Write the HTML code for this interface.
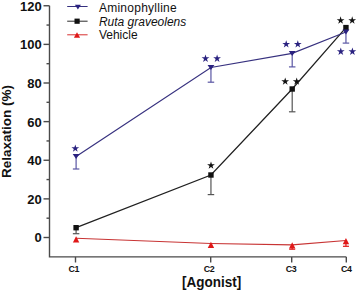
<!DOCTYPE html>
<html><head><meta charset="utf-8"><style>
html,body{margin:0;padding:0;background:#fff;}
body{width:358px;height:290px;overflow:hidden;}
svg{display:block;}
text{font-family:"Liberation Sans",sans-serif;}
.yl{font-size:13px;font-weight:bold;fill:#111;}
.xl{font-size:8.9px;letter-spacing:-0.4px;font-weight:bold;fill:#111;}
.t{font-size:13.5px;font-weight:bold;fill:#111;}
.lg{font-size:12px;fill:#111;}
</style></head><body>
<svg width="358" height="290" viewBox="0 0 358 290">
<path d="M49.5,5.7 V256.9 H346.4" fill="none" stroke="#4a4a4a" stroke-width="1.4"/>
<line x1="43.5" y1="237.50" x2="49.5" y2="237.50" stroke="#4a4a4a" stroke-width="1.4"/>
<text x="41.8" y="242.40" text-anchor="end" class="yl">0</text>
<line x1="43.5" y1="198.88" x2="49.5" y2="198.88" stroke="#4a4a4a" stroke-width="1.4"/>
<text x="41.8" y="203.78" text-anchor="end" class="yl">20</text>
<line x1="43.5" y1="160.25" x2="49.5" y2="160.25" stroke="#4a4a4a" stroke-width="1.4"/>
<text x="41.8" y="165.15" text-anchor="end" class="yl">40</text>
<line x1="43.5" y1="121.62" x2="49.5" y2="121.62" stroke="#4a4a4a" stroke-width="1.4"/>
<text x="41.8" y="126.53" text-anchor="end" class="yl">60</text>
<line x1="43.5" y1="83.00" x2="49.5" y2="83.00" stroke="#4a4a4a" stroke-width="1.4"/>
<text x="41.8" y="87.90" text-anchor="end" class="yl">80</text>
<line x1="43.5" y1="44.38" x2="49.5" y2="44.38" stroke="#4a4a4a" stroke-width="1.4"/>
<text x="41.8" y="49.27" text-anchor="end" class="yl">100</text>
<line x1="43.5" y1="5.75" x2="49.5" y2="5.75" stroke="#4a4a4a" stroke-width="1.4"/>
<text x="41.8" y="10.65" text-anchor="end" class="yl">120</text>
<line x1="46.5" y1="218.19" x2="49.5" y2="218.19" stroke="#4a4a4a" stroke-width="1.4"/>
<line x1="46.5" y1="179.56" x2="49.5" y2="179.56" stroke="#4a4a4a" stroke-width="1.4"/>
<line x1="46.5" y1="140.94" x2="49.5" y2="140.94" stroke="#4a4a4a" stroke-width="1.4"/>
<line x1="46.5" y1="102.31" x2="49.5" y2="102.31" stroke="#4a4a4a" stroke-width="1.4"/>
<line x1="46.5" y1="63.69" x2="49.5" y2="63.69" stroke="#4a4a4a" stroke-width="1.4"/>
<line x1="46.5" y1="25.06" x2="49.5" y2="25.06" stroke="#4a4a4a" stroke-width="1.4"/>
<line x1="75.5" y1="256.9" x2="75.5" y2="262.5" stroke="#4a4a4a" stroke-width="1.4"/>
<text x="73.7" y="272.4" text-anchor="middle" class="xl">C1</text>
<line x1="210.7" y1="256.9" x2="210.7" y2="262.5" stroke="#4a4a4a" stroke-width="1.4"/>
<text x="209.0" y="272.4" text-anchor="middle" class="xl">C2</text>
<line x1="291.7" y1="256.9" x2="291.7" y2="262.5" stroke="#4a4a4a" stroke-width="1.4"/>
<text x="291.0" y="272.4" text-anchor="middle" class="xl">C3</text>
<line x1="346.3" y1="256.9" x2="346.3" y2="262.5" stroke="#4a4a4a" stroke-width="1.4"/>
<text x="346.3" y="272.4" text-anchor="middle" class="xl">C4</text>
<text transform="translate(211.7,287.0) scale(1,1.09)" text-anchor="middle" class="t">[Agonist]</text>
<text transform="translate(10.9,131.6) rotate(-90)" text-anchor="middle" class="t">Relaxation (%)</text>
<line x1="292.2" y1="244.9" x2="292.2" y2="249.2" stroke="#e01818" stroke-width="1.2"/><line x1="289.2" y1="249.2" x2="295.2" y2="249.2" stroke="#e01818" stroke-width="1.2"/>
<line x1="345.95" y1="240.5" x2="345.95" y2="246.3" stroke="#e01818" stroke-width="1.2"/><line x1="342.95" y1="246.3" x2="348.95" y2="246.3" stroke="#e01818" stroke-width="1.2"/>
<line x1="76.1" y1="227.7" x2="76.1" y2="233.7" stroke="#555" stroke-width="1.2"/><line x1="72.85" y1="233.7" x2="79.35" y2="233.7" stroke="#555" stroke-width="1.2"/>
<line x1="210.95" y1="175.0" x2="210.95" y2="194.6" stroke="#555" stroke-width="1.2"/><line x1="207.7" y1="194.6" x2="214.2" y2="194.6" stroke="#555" stroke-width="1.2"/>
<line x1="292.2" y1="89.0" x2="292.2" y2="111.8" stroke="#555" stroke-width="1.2"/><line x1="288.95" y1="111.8" x2="295.45" y2="111.8" stroke="#555" stroke-width="1.2"/>
<line x1="76.1" y1="156.6" x2="76.1" y2="169.0" stroke="#5a56a4" stroke-width="1.2"/><line x1="72.85" y1="169.0" x2="79.35" y2="169.0" stroke="#5a56a4" stroke-width="1.2"/>
<line x1="210.95" y1="67.5" x2="210.95" y2="82.2" stroke="#5a56a4" stroke-width="1.2"/><line x1="207.7" y1="82.2" x2="214.2" y2="82.2" stroke="#5a56a4" stroke-width="1.2"/>
<line x1="292.2" y1="53.4" x2="292.2" y2="66.9" stroke="#5a56a4" stroke-width="1.2"/><line x1="288.95" y1="66.9" x2="295.45" y2="66.9" stroke="#5a56a4" stroke-width="1.2"/>
<line x1="345.95" y1="32.0" x2="345.95" y2="43.1" stroke="#5a56a4" stroke-width="1.2"/><line x1="342.7" y1="43.1" x2="349.2" y2="43.1" stroke="#5a56a4" stroke-width="1.2"/>
<polyline points="76.1,238.2 210.95,243.5 292.2,244.9 345.95,240.5" fill="none" stroke="#c83434" stroke-width="1.1"/>
<polyline points="76.1,227.7 210.95,175.0 292.2,89.0 345.95,27.6" fill="none" stroke="#202020" stroke-width="1.25"/>
<polyline points="76.1,156.6 210.95,67.5 292.2,53.4 345.95,32.0" fill="none" stroke="#37317f" stroke-width="1.2"/>
<polygon points="72.90,242.55 79.30,242.55 76.10,236.25" fill="#e01818"/>
<polygon points="207.75,247.95 214.15,247.95 210.95,241.65" fill="#e01818"/>
<polygon points="289.00,248.45 295.40,248.45 292.20,242.15" fill="#e01818"/>
<polygon points="342.75,244.35 349.15,244.35 345.95,238.05" fill="#e01818"/>
<rect x="73.40" y="225.00" width="5.4" height="5.4" fill="#111"/>
<rect x="208.25" y="172.30" width="5.4" height="5.4" fill="#111"/>
<rect x="289.50" y="86.30" width="5.4" height="5.4" fill="#111"/>
<rect x="343.25" y="24.90" width="5.4" height="5.4" fill="#111"/>
<polygon points="72.70,154.10 79.50,154.10 76.10,159.10" fill="#2a2280"/>
<polygon points="207.55,64.90 214.35,64.90 210.95,69.90" fill="#2a2280"/>
<polygon points="288.80,50.90 295.60,50.90 292.20,55.90" fill="#2a2280"/>
<polygon points="342.55,29.40 349.35,29.40 345.95,34.40" fill="#2a2280"/>
<polygon points="75.30,144.43 76.21,147.24 79.17,147.24 76.78,148.98 77.69,151.79 75.30,150.05 72.91,151.79 73.82,148.98 71.43,147.24 74.39,147.24" fill="#2a2280"/>
<polygon points="205.50,54.53 206.41,57.34 209.37,57.34 206.98,59.08 207.89,61.89 205.50,60.15 203.11,61.89 204.02,59.08 201.63,57.34 204.59,57.34" fill="#2a2280"/>
<polygon points="217.10,54.53 218.01,57.34 220.97,57.34 218.58,59.08 219.49,61.89 217.10,60.15 214.71,61.89 215.62,59.08 213.23,57.34 216.19,57.34" fill="#2a2280"/>
<polygon points="286.20,40.23 287.11,43.04 290.07,43.04 287.68,44.78 288.59,47.59 286.20,45.85 283.81,47.59 284.72,44.78 282.33,43.04 285.29,43.04" fill="#2a2280"/>
<polygon points="297.80,40.23 298.71,43.04 301.67,43.04 299.28,44.78 300.19,47.59 297.80,45.85 295.41,47.59 296.32,44.78 293.93,43.04 296.89,43.04" fill="#2a2280"/>
<polygon points="340.80,47.53 341.71,50.34 344.67,50.34 342.28,52.08 343.19,54.89 340.80,53.15 338.41,54.89 339.32,52.08 336.93,50.34 339.89,50.34" fill="#2a2280"/>
<polygon points="352.40,47.53 353.31,50.34 356.27,50.34 353.88,52.08 354.79,54.89 352.40,53.15 350.01,54.89 350.92,52.08 348.53,50.34 351.49,50.34" fill="#2a2280"/>
<polygon points="211.00,161.43 211.91,164.24 214.87,164.24 212.48,165.98 213.39,168.79 211.00,167.05 208.61,168.79 209.52,165.98 207.13,164.24 210.09,164.24" fill="#111"/>
<polygon points="285.20,77.43 286.11,80.24 289.07,80.24 286.68,81.98 287.59,84.79 285.20,83.05 282.81,84.79 283.72,81.98 281.33,80.24 284.29,80.24" fill="#111"/>
<polygon points="296.70,77.43 297.61,80.24 300.57,80.24 298.18,81.98 299.09,84.79 296.70,83.05 294.31,84.79 295.22,81.98 292.83,80.24 295.79,80.24" fill="#111"/>
<polygon points="340.60,16.33 341.51,19.14 344.47,19.14 342.08,20.88 342.99,23.69 340.60,21.95 338.21,23.69 339.12,20.88 336.73,19.14 339.69,19.14" fill="#111"/>
<polygon points="352.20,16.33 353.11,19.14 356.07,19.14 353.68,20.88 354.59,23.69 352.20,21.95 349.81,23.69 350.72,20.88 348.33,19.14 351.29,19.14" fill="#111"/>
<line x1="67.2" y1="6.5" x2="87.6" y2="6.5" stroke="#35307f" stroke-width="1.0"/>
<polygon points="74.90,4.80 80.90,4.80 77.90,9.40" fill="#2a2280"/>
<text x="98.9" y="11.6" class="lg" style="letter-spacing:0.26px">Aminophylline</text>
<line x1="67.2" y1="21.2" x2="87.6" y2="21.2" stroke="#2a2a2a" stroke-width="1.0"/>
<rect x="74.50" y="18.60" width="5.2" height="5.2" fill="#111"/>
<text x="98.9" y="25.7" class="lg" style="font-style:italic">Ruta graveolens</text>
<line x1="67.2" y1="34.8" x2="87.6" y2="34.8" stroke="#d83030" stroke-width="1.0"/>
<polygon points="73.90,37.80 80.10,37.80 77.00,32.20" fill="#e01818"/>
<text x="98.9" y="39.2" class="lg" style="">Vehicle</text>
</svg>
</body></html>
